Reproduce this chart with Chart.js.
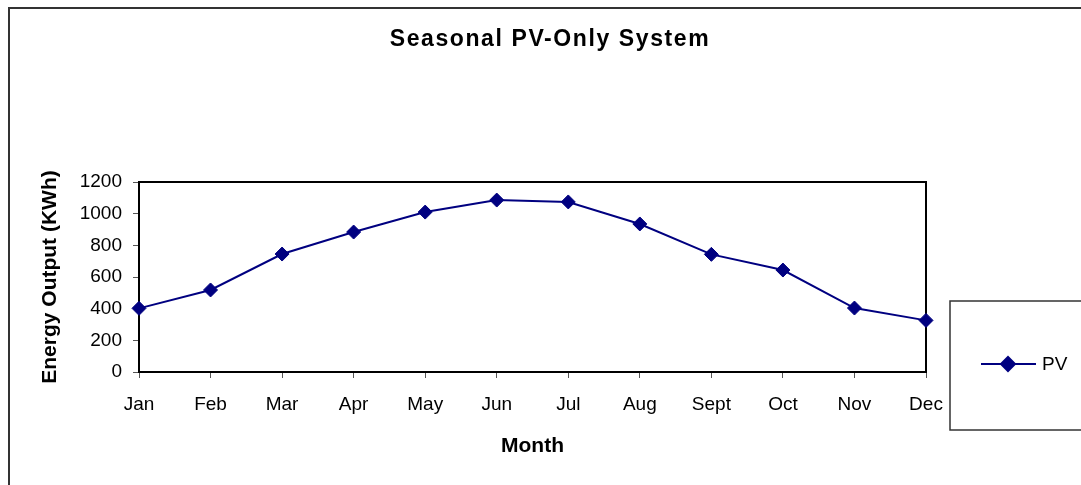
<!DOCTYPE html>
<html>
<head>
<meta charset="utf-8">
<title>Seasonal PV-Only System</title>
<script src="https://cdn.jsdelivr.net/npm/chart.js@4"></script>
<style>
  html, body { margin: 0; padding: 0; background: #fff; }
  #wrap { width: 1081px; height: 485px; position: relative; }
</style>
</head>
<body>
<div id="wrap"><canvas id="pvChart"></canvas></div>
<script>
"use strict";
// values
const months = ["Jan", "Feb", "Mar", "Apr", "May", "Jun", "Jul", "Aug", "Sept", "Oct", "Nov", "Dec"];
const pvOutput = [402, 518, 745, 884, 1010, 1086, 1074, 935, 743, 644, 404, 326];
const yMin = 0;
const yMax = 1200;
const yStep = 200;
const seriesLabel = "PV";
const chartTitle = "Seasonal PV-Only System";
const xTitle = "Month";
const yTitle = "Energy Output (KWh)";

const FONT = "'Liberation Sans', Arial, sans-serif";
const NAVY = "#000080";

// excel-ish frame, plot box, title and the boxed legend on the right
const excelFrame = {
  id: "excelFrame",
  beforeDatasetsDraw(chart) {
    const { ctx, chartArea: a } = chart;
    ctx.save();
    ctx.strokeStyle = "#000";
    ctx.lineWidth = 2;
    ctx.strokeRect(a.left, a.top, a.right - a.left, a.bottom - a.top);
    ctx.restore();
  },
  afterDraw(chart) {
    const { ctx } = chart;
    const ds = chart.data.datasets[0];
    ctx.save();
    // outer chart border (cut off at right/bottom)
    ctx.strokeStyle = "#333";
    ctx.lineWidth = 2;
    ctx.strokeRect(9, 8, 1200, 600);

    // title
    ctx.fillStyle = "#000";
    ctx.font = "bold 23px " + FONT;
    ctx.letterSpacing = "1.6px";
    ctx.textAlign = "center";
    ctx.textBaseline = "middle";
    ctx.fillText(chartTitle, 550, 40);
    ctx.letterSpacing = "0px";

    // legend box
    ctx.strokeStyle = "#333";
    ctx.lineWidth = 1.5;
    ctx.strokeRect(950, 301, 200, 129);
    ctx.strokeStyle = ds.borderColor;
    ctx.lineWidth = 2;
    ctx.beginPath();
    ctx.moveTo(981, 364);
    ctx.lineTo(1036, 364);
    ctx.stroke();
    ctx.fillStyle = ds.pointBackgroundColor;
    Chart.helpers.drawPoint(ctx, { pointStyle: "rectRot", radius: 7, rotation: 0, borderWidth: 1 }, 1008, 364);
    ctx.fillStyle = "#000";
    ctx.font = "19px " + FONT;
    ctx.textAlign = "left";
    ctx.fillText(ds.label, 1042, 365);
    ctx.restore();
  },
};

const ctx = document.getElementById("pvChart");
const pvChart = new Chart(ctx, {
  type: "line",
  data: {
    labels: months,
    datasets: [
      {
        label: seriesLabel,
        data: pvOutput,
        borderColor: NAVY,
        backgroundColor: NAVY,
        borderWidth: 2,
        pointStyle: "rectRot",
        pointRadius: 7,
        pointBackgroundColor: NAVY,
        pointBorderColor: NAVY,
        pointBorderWidth: 1,
        tension: 0,
        clip: false,
      },
    ],
  },
  options: {
    responsive: true,
    maintainAspectRatio: false,
    animation: false,
    layout: {
      padding: { left: 20, right: 155, top: 182, bottom: 20 },
    },
    plugins: {
      legend: { display: false },
      title: { display: false },
      tooltip: { enabled: false },
    },
    scales: {
      x: {
        offset: false,
        afterFit(scale) {
          scale.height = 93;
        },
        grid: {
          drawOnChartArea: false,
          drawTicks: true,
          tickLength: 6,
          color: "#555",
        },
        border: { display: true, color: "#000", width: 2 },
        ticks: {
          color: "#000",
          font: { family: FONT, size: 19 },
          padding: 15,
          maxRotation: 0,
          autoSkip: false,
        },
        title: {
          display: true,
          text: xTitle,
          color: "#000",
          font: { family: FONT, size: 21, weight: "bold" },
          padding: { top: 0, bottom: 6 },
        },
      },
      y: {
        min: yMin,
        max: yMax,
        afterFit(scale) {
          scale.width = 119;
        },
        grid: {
          drawOnChartArea: false,
          drawTicks: true,
          tickLength: 6,
          color: "#555",
        },
        border: { display: true, color: "#000", width: 2 },
        ticks: {
          stepSize: yStep,
          color: "#000",
          font: { family: FONT, size: 19 },
          padding: 11,
          callback: (value) => String(value),
        },
        title: {
          display: true,
          text: yTitle,
          color: "#000",
          font: { family: FONT, size: 21, weight: "bold" },
          padding: { top: 18, bottom: 0 },
        },
      },
    },
  },
  plugins: [excelFrame],
});
</script>
</body>
</html>
